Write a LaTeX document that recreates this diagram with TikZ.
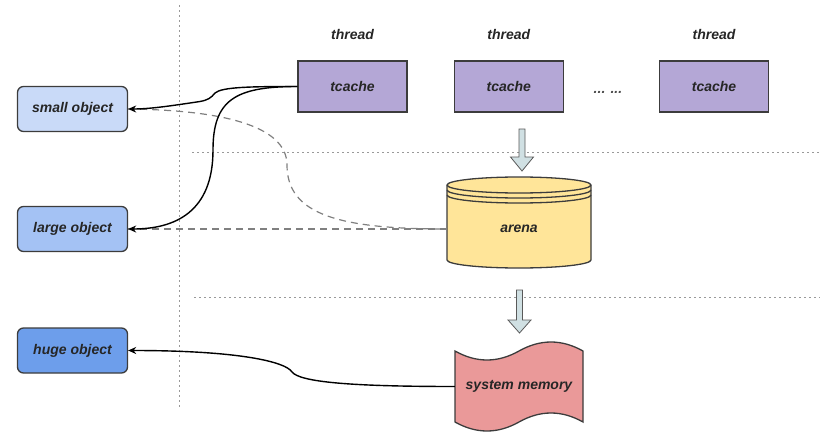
\documentclass[tikz,border=0pt]{standalone}
\usepackage{fontspec}
\setmainfont{Liberation Sans}
\usetikzlibrary{arrows.meta,positioning}

\definecolor{smallblue}{HTML}{C9DAF8}
\definecolor{largeblue}{HTML}{A4C2F4}
\definecolor{hugeblue}{HTML}{6D9EEB}
\definecolor{tcachepurple}{HTML}{B4A7D6}
\definecolor{arenayellow}{HTML}{FFE599}
\definecolor{memred}{HTML}{EA9999}
\definecolor{arrowfill}{HTML}{D0E0E3}
\definecolor{edgegray}{HTML}{3C3C3C}

\tikzset{
    labeltext/.style={font=\fontsize{14}{16}\selectfont\bfseries\itshape, text=black!85},
    objbox/.style={labeltext, draw=edgegray, line width=1.3pt, rounded corners=6pt, minimum width=110pt, minimum height=45pt},
    cachebox/.style={labeltext, draw=edgegray, fill=tcachepurple, line width=1.3pt, minimum width=109pt, minimum height=51pt},
    conn/.style={black, line width=1.4pt, -{Stealth[length=8pt,width=7pt]}},
    dashconn/.style={gray, line width=1.2pt, dash pattern=on 7pt off 5pt},
    divider/.style={gray!80, line width=1pt, dash pattern=on 2pt off 3pt},
    blockarrow/.style={draw=gray!70!black, fill=arrowfill, line width=0.8pt},
    shapeline/.style={draw=edgegray, line width=1.3pt}
}

\begin{document}
\begin{tikzpicture}[x=1pt, y=-1pt]
    \useasboundingbox (0,0) rectangle (828,439);

    \draw[divider] (179,5) -- (179,407);
    \draw[divider] (192,152) -- (820,152);
    \draw[divider] (194,297) -- (820,297);

    \node[cachebox] (tc1) at (352.5,86.5) {tcache};
    \node[cachebox, right=46pt of tc1] (tc2) {tcache};
    \node[cachebox, right=95pt of tc2] (tc3) {tcache};
    \node[labeltext, above=17pt of tc1] (th1) {thread};
    \node[labeltext, above=17pt of tc2] (th2) {thread};
    \node[labeltext, above=17pt of tc3] (th3) {thread};
    \node[labeltext, text=black!70] (dots) at (608,92) {... ...};

    \node[objbox, fill=smallblue] (small) at (72.5,109) {small object};
    \node[objbox, fill=largeblue] (large) at (72.5,229) {large object};
    \node[objbox, fill=hugeblue] (huge) at (72.5,350.5) {huge object};

    \draw[blockarrow] (519,129) -- (525,129) -- (525,157) -- (533.5,157) -- (522,171) -- (510.5,157) -- (519,157) -- cycle;
    \draw[blockarrow] (516.5,290) -- (522.5,290) -- (522.5,320) -- (531,320) -- (519.5,333) -- (508,320) -- (516.5,320) -- cycle;

    \draw[shapeline, fill=arenayellow] (447,185) -- (447,260) arc[start angle=180, end angle=360, x radius=72pt, y radius=8pt] -- (591,185) arc[start angle=0, end angle=180, x radius=72pt, y radius=8pt] -- cycle;
    \draw[shapeline] (447,185) arc[start angle=180, end angle=360, x radius=72pt, y radius=8pt];
    \draw[shapeline] (447,190) arc[start angle=180, end angle=360, x radius=72pt, y radius=8pt];
    \draw[shapeline] (447,195) arc[start angle=180, end angle=360, x radius=72pt, y radius=8pt];
    \node[labeltext, minimum width=144pt] (arena) at (519,229) {arena};

    \draw[shapeline, fill=memred] (455,351) .. controls (476.3,363) and (497.7,363) .. (519,351) .. controls (540.3,339) and (561.7,339) .. (583,351) -- (583,422) .. controls (561.7,410) and (540.3,410) .. (519,422) .. controls (497.7,434) and (476.3,434) .. (455,422) -- cycle;
    \node[labeltext, minimum width=128pt, minimum height=71pt] (sysmem) at (519,386.5) {system memory};

    \draw[dashconn] (large.east) -- (arena.west);
    \draw[dashconn] (small.east) .. controls (220,110) and (287,125) .. (287,165) .. controls (287,215) and (340,229) .. (arena.west);

    \draw[conn] (tc1.west) .. controls (250,86.5) and (222,87) .. (215,93) .. controls (211,98) and (208,100) .. (200,101.5) .. controls (170,106) and (150,109) .. (small.east);
    \draw[conn] (tc1.west) .. controls (235,86.5) and (213,100) .. (213,150) .. controls (213,212) and (175,229) .. (large.east);
    \draw[conn] (sysmem.west) .. controls (350,386.5) and (300,382) .. (292,372) .. controls (286,362) and (240,350.5) .. (huge.east);

\end{tikzpicture}
\end{document}
